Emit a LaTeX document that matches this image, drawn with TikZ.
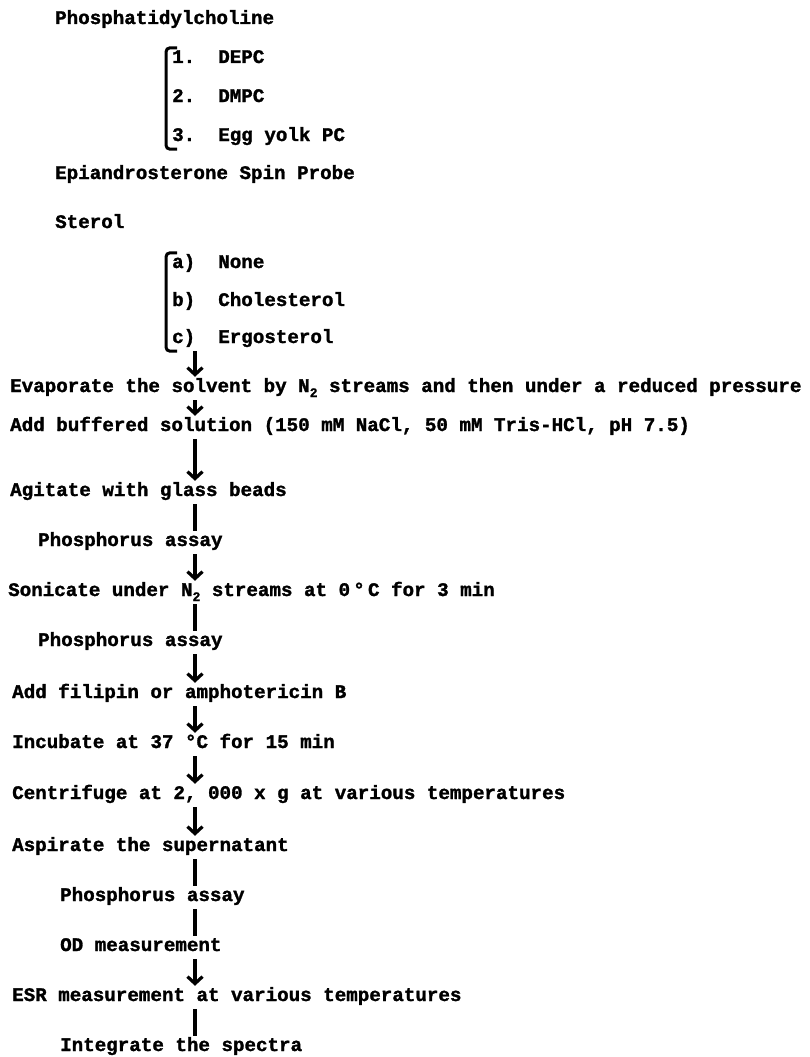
\documentclass[tikz,border=0pt]{standalone}
\usepackage{fontspec}
\setmainfont{Liberation Mono}[BoldFeatures={FakeBold=1.5}]
\usetikzlibrary{arrows.meta}

\newcommand{\Ntwo}{N\raisebox{-5pt}{\fontsize{13}{13}\selectfont 2}}

\begin{document}
\begin{tikzpicture}[x=1pt, y=-1pt,
  stepnode/.style={anchor=base west, inner xsep=0pt, inner ysep=4pt,
                   text height=11pt, text depth=4pt,
                   font=\fontsize{19.2}{22}\selectfont\bfseries},
  arrow/.style={-{Straight Barb[length=7pt,width=15pt]}, line width=3.2pt},
  link/.style={line width=3.2pt},
  bracket/.style={line width=3pt, rounded corners=4pt}
]
\useasboundingbox (0,0) rectangle (810,1057);
\coordinate (spine) at (195,0);
% starting materials
\node[stepnode] (pc) at (55,24) {Phosphatidylcholine};
\node[stepnode] (depc) at (172,63) {1.~~DEPC};
\node[stepnode] (dmpc) at (172,102) {2.~~DMPC};
\node[stepnode] (egg) at (172,141) {3.~~Egg yolk PC};
\node[stepnode] (epi) at (55,179) {Epiandrosterone Spin Probe};
\node[stepnode] (sterol) at (55,228) {Sterol};
\node[stepnode] (none) at (172,268) {a)~~None};
\node[stepnode] (chol) at (172,306) {b)~~Cholesterol};
\node[stepnode] (ergo) at (172,343) {c)~~Ergosterol};
\draw[bracket] ([xshift=5pt]depc.north west) -| ([xshift=-6pt]egg.south west) -- ++(11,0);
\draw[bracket] ([xshift=5pt]none.north west) -| ([xshift=-6pt]ergo.south west) -- ++(11,0);
% preparation steps
\node[stepnode] (evap) at (10,392) {Evaporate the solvent by \Ntwo{} streams and then under a reduced pressure};
\node[stepnode] (buff) at (10,431) {Add buffered solution (150 mM NaCl, 50 mM Tris-HCl, pH 7.5)};
\node[stepnode] (agit) at (10,496) {Agitate with glass beads};
\node[stepnode] (pa1) at (38,546) {Phosphorus assay};
\node[stepnode] (soni) at (8,596) {Sonicate under \Ntwo{} streams at 0\,°\,C for 3 min};
\node[stepnode] (pa2) at (38,646) {Phosphorus assay};
\node[stepnode] (fili) at (12,698) {Add filipin or amphotericin B};
\node[stepnode] (incu) at (12,748) {Incubate at 37 °C for 15 min};
\node[stepnode] (cent) at (12,799) {Centrifuge at 2, 000 x g at various temperatures};
\node[stepnode] (aspi) at (12,851) {Aspirate the supernatant};
\node[stepnode] (pa3) at (60,901) {Phosphorus assay};
\node[stepnode] (od) at (60,951) {OD measurement};
\node[stepnode] (esr) at (12,1001) {ESR measurement at various temperatures};
\node[stepnode] (integ) at (60,1051) {Integrate the spectra};
% connectors
\draw[arrow] (ergo.south -| spine) -- (evap.north -| spine);
\draw[arrow] (evap.south -| spine) -- (buff.north -| spine);
\draw[arrow] (buff.south -| spine) -- (agit.north -| spine);
\draw[link] (agit.south -| spine) -- (pa1.north -| spine);
\draw[arrow] (pa1.south -| spine) -- (soni.north -| spine);
\draw[link] (soni.south -| spine) -- (pa2.north -| spine);
\draw[arrow] (pa2.south -| spine) -- (fili.north -| spine);
\draw[arrow] (fili.south -| spine) -- (incu.north -| spine);
\draw[arrow] (incu.south -| spine) -- (cent.north -| spine);
\draw[arrow] (cent.south -| spine) -- (aspi.north -| spine);
\draw[link] (aspi.south -| spine) -- (pa3.north -| spine);
\draw[link] (pa3.south -| spine) -- (od.north -| spine);
\draw[arrow] (od.south -| spine) -- (esr.north -| spine);
\draw[link] (esr.south -| spine) -- (integ.north -| spine);
\end{tikzpicture}
\end{document}
